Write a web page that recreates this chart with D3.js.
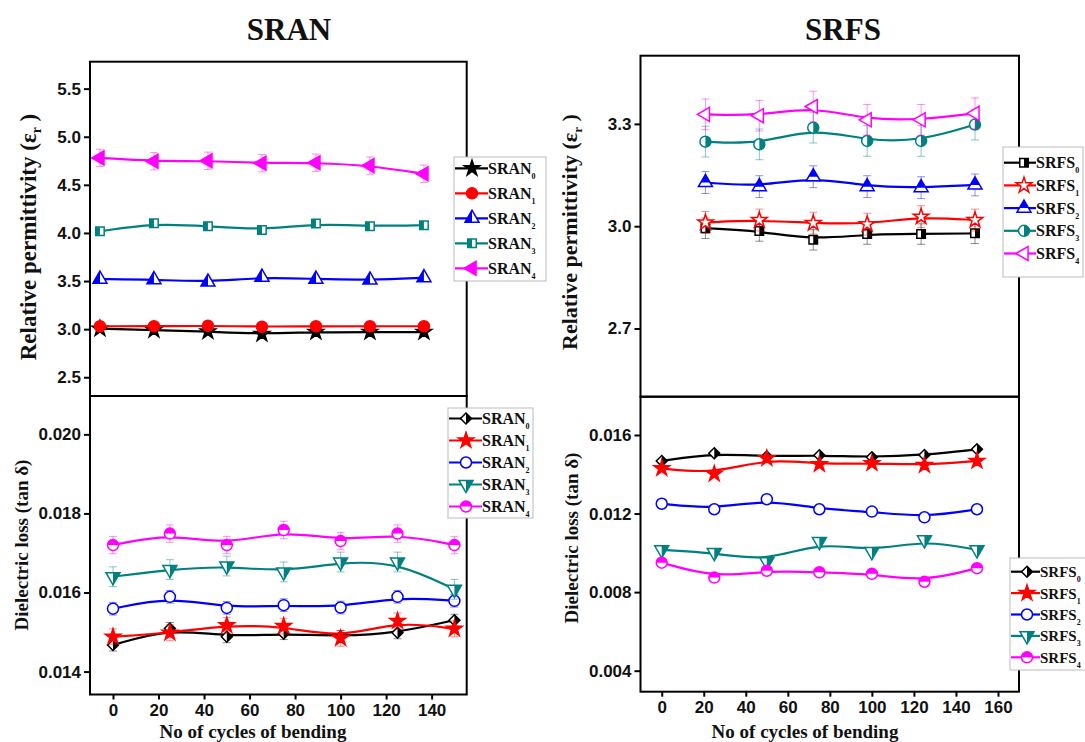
<!DOCTYPE html>
<html>
<head>
<meta charset="utf-8">
<title>SRAN / SRFS bending</title>
<script src="https://d3js.org/d3.v7.min.js"></script>
<style>
  body { margin: 0; background: #fff; }
  .tick text { font-family: "Liberation Sans", Arial, sans-serif; font-weight: bold; font-size: 17px; fill: #111; }
  .tick line { stroke: #000; stroke-width: 2px; }
  .serif { font-family: "Liberation Serif", "Times New Roman", serif; font-weight: bold; fill: #111; }
</style>
</head>
<body>
<div id="chart"></div>
<script>
// ---- data ----
var cycles = [0, 25, 50, 75, 100, 125, 150];
var cyclesSrfsEr = [25, 50, 75, 100, 125, 150];

var sranNames = ["SRAN", "SRAN", "SRAN", "SRAN", "SRAN"];
var srfsNames = ["SRFS", "SRFS", "SRFS", "SRFS", "SRFS"];
var subs = ["0", "1", "2", "3", "4"];
var colors = ["#000000", "#ff0000", "#0000ff", "#008080", "#ff00ff"];

// SRAN relative permittivity
var sranEr0 = [3.005, 2.99, 2.975, 2.95, 2.97, 2.97, 2.97];
var sranEr1 = [3.03, 3.03, 3.035, 3.025, 3.03, 3.03, 3.03];
var sranEr2 = [3.52, 3.515, 3.49, 3.54, 3.52, 3.51, 3.535];
var sranEr3 = [4.017, 4.10, 4.07, 4.03, 4.097, 4.07, 4.08];
var sranEr4 = [4.78, 4.745, 4.75, 4.725, 4.73, 4.70, 4.615];
var sranErErr = [0.02, 0.02, 0.02, 0.03, 0.09];

// SRAN dielectric loss
var sranTan0 = [0.01467, 0.01509, 0.01488, 0.01496, 0.01489, 0.01498, 0.0153];
var sranTan1 = [0.01488, 0.01498, 0.01517, 0.01515, 0.01484, 0.01528, 0.01508];
var sranTan2 = [0.01559, 0.01589, 0.01561, 0.01568, 0.01562, 0.01589, 0.01579];
var sranTan3 = [0.0164, 0.01658, 0.01667, 0.01652, 0.01677, 0.01677, 0.01608];
var sranTan4 = [0.0172, 0.01749, 0.0172, 0.01758, 0.0173, 0.01749, 0.0172];
var sranTanErr = [0.00015, 0.0002, 0.00016, 0.00025, 0.00022];

// SRFS relative permittivity
var srfsEr0 = [2.994, 2.986, 2.960, 2.977, 2.977, 2.979];
var srfsEr1 = [3.011, 3.018, 3.009, 3.006, 3.028, 3.018];
var srfsEr2 = [3.128, 3.116, 3.145, 3.116, 3.113, 3.121];
var srfsEr3 = [3.248, 3.240, 3.289, 3.250, 3.250, 3.298];
var srfsEr4 = [3.328, 3.324, 3.351, 3.312, 3.312, 3.331];
var srfsErErr = [0.03, 0.032, 0.032, 0.045, 0.045];

// SRFS dielectric loss
var srfsTan0 = [0.01468, 0.01507, 0.0149, 0.01497, 0.01487, 0.01498, 0.01527];
var srfsTan1 = [0.0143, 0.01402, 0.01481, 0.01451, 0.01456, 0.01447, 0.01468];
var srfsTan2 = [0.0125, 0.01222, 0.01273, 0.01222, 0.0121, 0.01181, 0.01222];
var srfsTan3 = [0.01015, 0.01001, 0.00955, 0.01057, 0.01006, 0.01066, 0.01015];
var srfsTan4 = [0.0095, 0.00874, 0.00909, 0.00901, 0.00893, 0.00853, 0.00922];
var srfsTanErr = [0, 0, 0, 0, 0];

// tick values
var sranErTicks = [2.5, 3.0, 3.5, 4.0, 4.5, 5.0, 5.5];
var sranTanTicks = [0.014, 0.016, 0.018, 0.020];
var srfsErTicks = [2.7, 3.0, 3.3];
var srfsTanTicks = [0.004, 0.008, 0.012, 0.016];
var sranXTicks = [0, 20, 40, 60, 80, 100, 120, 140];
var srfsXTicks = [0, 20, 40, 60, 80, 100, 120, 140, 160];

// ---- drawing ----
var svg = d3.select("#chart").append("svg")
    .attr("width", 1085)
    .attr("height", 742);

var defs = svg.append("defs");
[["left", -20, -20, 20, 40], ["right", 0, -20, 20, 40], ["top", -20, -20, 40, 20], ["bottom", -20, 0, 40, 20]]
    .forEach(function (c) {
        defs.append("clipPath").attr("id", "half-" + c[0])
            .append("rect").attr("x", c[1]).attr("y", c[2]).attr("width", c[3]).attr("height", c[4]);
    });

var symTypes = { circle: d3.symbolCircle, triangle: d3.symbolTriangle, square: d3.symbolSquare, star: d3.symbolStar, diamond: d3.symbolSquare };
var symSizes = { circle: 95, triangle: 85, square: 72, star: 75, diamond: 60 };

function drawMarker(sel, x, y, m, color) {
    var g = sel.append("g").attr("transform", "translate(" + x + "," + y + ")");
    var d = d3.symbol().type(symTypes[m.shape]).size(symSizes[m.shape])();
    var rot = "rotate(" + (m.rot || 0) + ")";
    g.append("path").attr("d", d).attr("transform", rot)
        .attr("fill", m.fill == "full" ? color : "#fff")
        .attr("stroke", color).attr("stroke-width", 1.5);
    if (m.fill != "full" && m.fill != "none") {
        g.append("g").attr("clip-path", "url(#half-" + m.fill + ")")
            .append("path").attr("d", d).attr("transform", rot).attr("fill", color);
    }
}

function drawPanel(p) {
    var g = svg.append("g");
    var x = d3.scaleLinear().domain(p.xDomain).range([p.box[0], p.box[2]]);
    var y = d3.scaleLinear().domain(p.yDomain).range([p.box[3], p.box[1]]);

    // y axis
    var ya = g.append("g").attr("transform", "translate(" + p.box[0] + ",0)")
        .call(d3.axisLeft(y).tickValues(p.yTicks).tickFormat(d3.format(p.yFormat)).tickSize(6).tickPadding(3));
    ya.select(".domain").remove();

    if (p.xTicks) {
        var xa = g.append("g").attr("transform", "translate(0," + p.box[3] + ")")
            .call(d3.axisBottom(x).tickValues(p.xTicks).tickSize(5).tickPadding(4));
        xa.select(".domain").remove();
    }

    // frame
    g.append("rect")
        .attr("x", p.box[0]).attr("y", p.box[1])
        .attr("width", p.box[2] - p.box[0]).attr("height", p.box[3] - p.box[1])
        .attr("fill", "none").attr("stroke", "#000").attr("stroke-width", 2);

    var line = d3.line().curve(d3.curveBasis)
        .x(function (d) { return x(d[0]); })
        .y(function (d) { return y(d[1]); });

    p.series.forEach(function (s, i) {
        var pts = p.xs.map(function (c, j) { return [c, s[j]]; });
        var col = colors[i];
        var e = p.err[i];
        if (e > 0) {
            var eb = g.append("g").attr("stroke", col).attr("stroke-opacity", 0.45).attr("stroke-width", 1);
            pts.forEach(function (d) {
                var cx = x(d[0]);
                eb.append("line").attr("x1", cx).attr("x2", cx).attr("y1", y(d[1] - e)).attr("y2", y(d[1] + e));
                eb.append("line").attr("x1", cx - 4).attr("x2", cx + 4).attr("y1", y(d[1] - e)).attr("y2", y(d[1] - e));
                eb.append("line").attr("x1", cx - 4).attr("x2", cx + 4).attr("y1", y(d[1] + e)).attr("y2", y(d[1] + e));
            });
        }
        g.append("path").attr("d", line(pts)).attr("fill", "none").attr("stroke", col).attr("stroke-width", 2.2);
        pts.forEach(function (d) { drawMarker(g, x(d[0]), y(d[1]), p.markers[i], col); });
    });

    // legend
    var L = p.legend;
    g.append("rect").attr("x", L.x0).attr("y", L.y0).attr("width", L.x1 - L.x0).attr("height", L.y1 - L.y0)
        .attr("fill", "#fff").attr("stroke", "#bbb").attr("stroke-width", 1);
    p.names.forEach(function (n, i) {
        var ry = L.row0 + i * L.step;
        g.append("line").attr("x1", L.x0 + 1).attr("x2", L.tx).attr("y1", ry).attr("y2", ry)
            .attr("stroke", colors[i]).attr("stroke-width", 2.2);
        drawMarker(g, L.mx, ry, p.markers[i], colors[i]);
        var t = g.append("text").attr("class", "serif").attr("x", L.tx).attr("y", ry + 5.5)
            .attr("font-size", L.fs);
        t.append("tspan").text(n);
        t.append("tspan").attr("font-size", 8).attr("dy", 5).text(subs[i]);
    });

    // y label
    var yl = g.append("text").attr("class", "serif").attr("font-size", p.ylabelSize)
        .attr("text-anchor", "middle")
        .attr("transform", "translate(" + p.ylabel[0] + "," + p.ylabel[1] + ") rotate(-90)");
    if (p.ylabelSub) {
        yl.append("tspan").text(p.ylabelText);
        yl.append("tspan").attr("font-size", p.ylabelSize * 0.6).attr("dy", 5).text(p.ylabelSub);
        yl.append("tspan").attr("dy", -5).text(" )");
    } else {
        yl.text(p.ylabelText);
    }

    if (p.xlabel) {
        g.append("text").attr("class", "serif").attr("font-size", 19).attr("text-anchor", "middle")
            .attr("x", p.xlabel[0]).attr("y", p.xlabel[1]).text("No of cycles of bending");
    }
}

// SRAN permittivity
drawPanel({
    box: [90, 61.7, 466.7, 396], xDomain: [-4.6, 169.8], yDomain: [2.305, 5.78],
    yTicks: sranErTicks, yFormat: ".1f", xs: cycles,
    series: [sranEr0, sranEr1, sranEr2, sranEr3, sranEr4], err: sranErErr, names: sranNames,
    markers: [{ shape: "star", fill: "full" }, { shape: "circle", fill: "full" }, { shape: "triangle", fill: "left" },
        { shape: "square", fill: "left" }, { shape: "triangle", fill: "full", rot: -90 }],
    legend: { x0: 454, x1: 546, y0: 157, y1: 281, row0: 168.3, step: 25, mx: 472, tx: 488, fs: 16 },
    ylabel: [36, 237], ylabelText: "Relative permittivity (\u03b5", ylabelSub: "r", ylabelSize: 23
});

// SRAN loss
drawPanel({
    box: [90, 396, 466.7, 694.5], xDomain: [-10.1, 155.4], yDomain: [0.01342, 0.02097],
    yTicks: sranTanTicks, yFormat: ".3f", xTicks: sranXTicks, xs: cycles,
    series: [sranTan0, sranTan1, sranTan2, sranTan3, sranTan4], err: sranTanErr, names: sranNames,
    markers: [{ shape: "diamond", fill: "right", rot: 45 }, { shape: "star", fill: "full" }, { shape: "circle", fill: "none" },
        { shape: "triangle", fill: "right", rot: 180 }, { shape: "circle", fill: "top" }],
    legend: { x0: 448, x1: 533, y0: 408, y1: 518, row0: 418.5, step: 22, mx: 466, tx: 482, fs: 16 },
    ylabel: [28, 545], ylabelText: "Dielectric loss (tan \u03b4)", ylabelSize: 19,
    xlabel: [253, 738]
});

// SRFS permittivity
drawPanel({
    box: [640.5, 55.7, 1019, 396.7], xDomain: [-5.1, 170.4], yDomain: [2.5, 3.5],
    yTicks: srfsErTicks, yFormat: ".1f", xs: cyclesSrfsEr,
    series: [srfsEr0, srfsEr1, srfsEr2, srfsEr3, srfsEr4], err: srfsErErr, names: srfsNames,
    markers: [{ shape: "square", fill: "right" }, { shape: "star", fill: "none" }, { shape: "triangle", fill: "top" },
        { shape: "circle", fill: "right" }, { shape: "triangle", fill: "none", rot: -90 }],
    legend: { x0: 1003, x1: 1083, y0: 147, y1: 277, row0: 162.7, step: 22.7, mx: 1024, tx: 1036, fs: 16 },
    ylabel: [577, 232], ylabelText: "Relative permittivity (\u03b5", ylabelSub: "r", ylabelSize: 22
});

// SRFS loss
drawPanel({
    box: [640.5, 396.7, 1019, 691.7], xDomain: [-10.1, 170], yDomain: [0.00293, 0.01795],
    yTicks: srfsTanTicks, yFormat: ".3f", xTicks: srfsXTicks, xs: cycles,
    series: [srfsTan0, srfsTan1, srfsTan2, srfsTan3, srfsTan4], err: srfsTanErr, names: srfsNames,
    markers: [{ shape: "diamond", fill: "right", rot: 45 }, { shape: "star", fill: "full" }, { shape: "circle", fill: "none" },
        { shape: "triangle", fill: "right", rot: 180 }, { shape: "circle", fill: "top" }],
    legend: { x0: 1010, x1: 1092, y0: 558, y1: 670, row0: 571.7, step: 21.4, mx: 1027, tx: 1040, fs: 15 },
    ylabel: [578, 538], ylabelText: "Dielectric loss (tan \u03b4)", ylabelSize: 19,
    xlabel: [805, 738]
});

// titles
svg.append("text").attr("class", "serif").attr("font-size", 31).attr("text-anchor", "middle")
    .attr("x", 289).attr("y", 40).text("SRAN");
svg.append("text").attr("class", "serif").attr("font-size", 31).attr("text-anchor", "middle")
    .attr("x", 843).attr("y", 40).text("SRFS");
</script>
</body>
</html>
